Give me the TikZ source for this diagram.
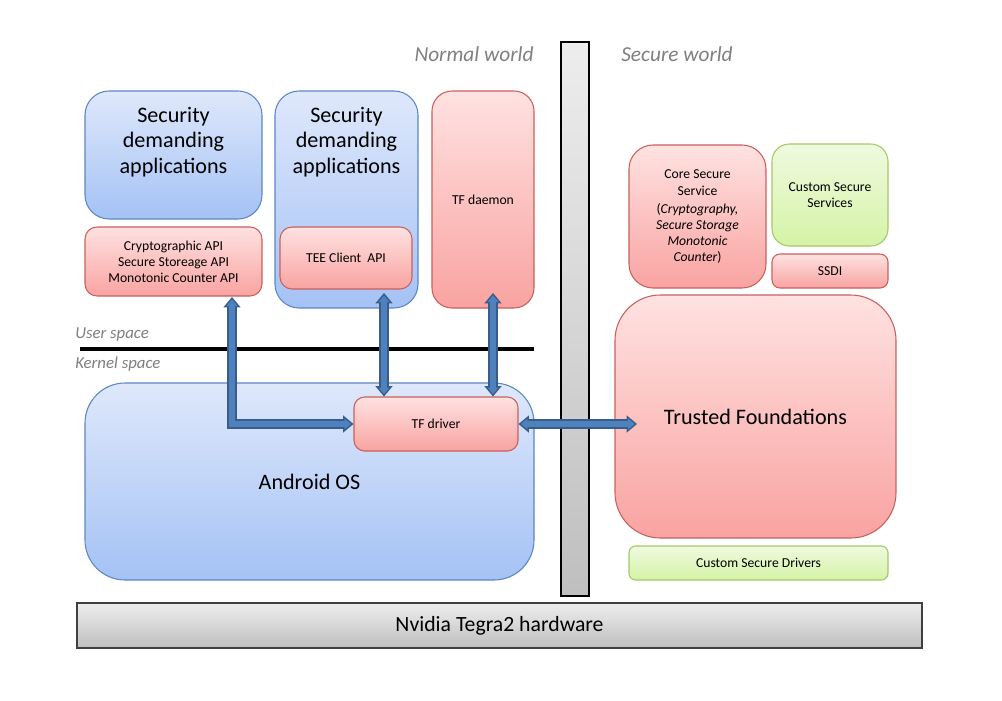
\documentclass[tikz,border=0pt]{standalone}
\usepackage{fontspec}
\setmainfont{Carlito}
\usetikzlibrary{arrows.meta,calc}
\definecolor{bluetop}{HTML}{DFE8FB}
\definecolor{bluebot}{HTML}{A4C2F5}
\definecolor{blueedge}{HTML}{5B87C5}
\definecolor{redtop}{HTML}{FEE2E1}
\definecolor{redbot}{HTML}{F9A3A1}
\definecolor{rededge}{HTML}{C9605E}
\definecolor{greentop}{HTML}{EFFADF}
\definecolor{greenbot}{HTML}{D5F3A6}
\definecolor{greenedge}{HTML}{A6C667}
\definecolor{graytop}{HTML}{EDEDED}
\definecolor{graybot}{HTML}{BFBFBF}
\definecolor{hwedge}{HTML}{404040}
\definecolor{arrfill}{HTML}{4F81BD}
\definecolor{arredge}{HTML}{385D8A}
\definecolor{labgray}{HTML}{7F7F7F}
\newcommand\fatarr[1]{\draw[fatout] #1; \draw[fatin] #1;}
\begin{document}
\begin{tikzpicture}[x=0.75pt,y=-0.75pt,
  sz/.style 2 args={minimum width=#1*0.75pt, minimum height=#2*0.75pt},
  box/.style={draw, line width=0.8pt, inner sep=0pt, align=center, rounded corners=#1},
  bluebox/.style={box=#1, top color=bluetop, bottom color=bluebot, draw=blueedge},
  redbox/.style={box=#1, top color=redtop, bottom color=redbot, draw=rededge},
  greenbox/.style={box=#1, top color=greentop, bottom color=greenbot, draw=greenedge},
  bigtext/.style={font=\fontsize{16.6}{19.3}\selectfont, align=center},
  smalltext/.style={font=\fontsize{10.25}{12}\selectfont, align=center},
  worldlabel/.style={font=\fontsize{16}{19}\selectfont\itshape, text=labgray},
  spacelabel/.style={font=\fontsize{12.6}{15}\selectfont\itshape, text=labgray, anchor=west, inner sep=0pt},
  fatout/.style={line width=7.2pt, draw=arredge, line join=miter,
    arrows={Triangle[width=13pt,length=7.8pt,line width=0pt]-Triangle[width=13pt,length=7.8pt,line width=0pt]}},
  fatin/.style={line width=4.9pt, draw=arrfill, line join=miter, shorten <=1.8pt, shorten >=1.8pt,
    arrows={Triangle[width=8pt,length=4.8pt,line width=0pt]-Triangle[width=8pt,length=4.8pt,line width=0pt]}}
]
\useasboundingbox (0,0) rectangle (1002,700);

% world labels and separator
\node[worldlabel] (nw) at (474,54) {Normal world};
\node[worldlabel] (sw) at (677,54) {Secure world};
\node[draw=black, line width=0.8pt, top color=graytop, bottom color=graybot, sz={28}{554}, inner sep=0pt] (bar) at (575,319) {};

% normal world user space
\node[bluebox=18pt, sz={177}{128}] (sda1) at (173.5,155) {};
\node[bigtext] (sda1t) at (173.5,142) {Security\\demanding\\applications};
\node[redbox=9pt, sz={177}{69}, smalltext] (api1) at (173.5,261.5) {Cryptographic API\\Secure Storeage API\\Monotonic Counter API};

\node[bluebox=18pt, sz={143}{217}] (sda2) at (346.5,199.5) {};
\node[bigtext] (sda2t) at (346.5,142) {Security\\demanding\\applications};
\node[redbox=9pt, sz={132}{62}, smalltext] (tee) at (346,258) {TEE Client\ \ API};

\node[redbox=15pt, sz={102}{217}, smalltext] (tfd) at (483,199.5) {TF daemon};

% user / kernel separator
\coordinate (usl) at (80,349);
\coordinate (usr) at (534,349);
\draw[line width=3pt] (usl) -- (usr);
\node[spacelabel] (us) at (75,334) {User space};
\node[spacelabel] (ks) at (75,364) {Kernel space};

% kernel
\node[bluebox=30pt, sz={449}{197}, bigtext] (aos) at (309.5,481.5) {Android OS};
\node[redbox=8pt, sz={164}{54}, smalltext] (tfdrv) at (436,424) {TF driver};

% secure world
\node[redbox=18pt, sz={137}{143}, smalltext] (core) at (697.5,216.5)
  {Core Secure\\[1.2pt]Service\\[1.2pt](\textit{Cryptography,}\\\textit{Secure Storage}\\\textit{Monotonic}\\\textit{Counter})};
\node[greenbox=13pt, sz={116}{102}, smalltext] (css) at (830,195) {Custom Secure\\Services};
\node[redbox=6pt, sz={116}{34}, smalltext] (ssdi) at (830,271) {SSDI};
\node[redbox=34pt, sz={281}{243}, bigtext] (tf) at (755.5,416.5) {Trusted Foundations};
\node[greenbox=5pt, sz={259}{34}, smalltext] (csd) at (758.5,563) {Custom Secure Drivers};

% hardware
\node[draw=hwedge, line width=0.9pt, top color=graytop, bottom color=graybot, sz={845}{45}, inner sep=0pt,
  font=\fontsize{16.3}{18}\selectfont] (hw) at (499.5,625.5) {\raisebox{-1.8pt}{Nvidia Tegra2 hardware}};

% arrows
\coordinate (a1t) at (232,297);
\coordinate (a2t) at (384,293);
\coordinate (a3t) at (493,293);
\coordinate (a4r) at (637,424);
\fatarr{(a1t) |- (tfdrv.west)}
\fatarr{(a2t) -- (a2t |- tfdrv.north)}
\fatarr{(a3t) -- (a3t |- tfdrv.north)}
\fatarr{(tfdrv.east) -- (a4r)}
\end{tikzpicture}
\end{document}
